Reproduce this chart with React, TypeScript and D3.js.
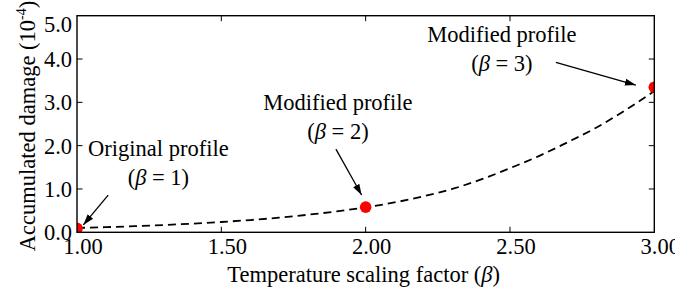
import React from "react";
import * as d3 from "d3";

const W = 675;
const H = 290;
const M = { left: 77, right: 20.7, top: 15.7, bottom: 57.7 };

// Curve (accumulated damage vs temperature scaling factor)
const curveBeta = [1.0, 1.1, 1.2, 1.3, 1.4, 1.5, 1.6, 1.7, 1.8, 1.9, 2.0, 2.1, 2.2, 2.3, 2.4, 2.5, 2.6, 2.7, 2.8, 2.9, 3.0];
const curveDamage = [0.1, 0.119, 0.141, 0.168, 0.2, 0.238, 0.283, 0.337, 0.405, 0.483, 0.577, 0.69, 0.83, 1.0, 1.22, 1.48, 1.76, 2.08, 2.42, 2.82, 3.26];

// Highlighted profiles
const pointBeta = [1, 2, 3];
const pointDamage = [0.09, 0.58, 3.35];

// Ticks
const xTicks = [1.0, 1.5, 2.0, 2.5, 3.0];
const xTickLabels = ["1.00", "1.50", "2.00", "2.50", "3.00"];
const yTicks = [0, 1, 2, 3, 4, 5];
const yTickLabels = ["0.0", "1.0", "2.0", "3.0", "4.0", "5.0"];

// Annotations (data coordinates)
const annBeta = [1.282, 1.904, 2.472];
const annDamage = [1.76, 2.82, 4.4];
const annLine1 = ["Original profile", "Modified profile", "Modified profile"];
const annBetaValue = ["1", "2", "3"];
const arrowFromBeta = [1.108, 1.897, 2.659];
const arrowFromDamage = [0.86, 1.92, 3.92];
const arrowToBeta = [1.022, 1.986, 2.936];
const arrowToDamage = [0.17, 0.86, 3.4];

const FONT = '"Liberation Serif", "Times New Roman", Times, serif';
const FS = 22.5;

export default function App() {
  const x = d3.scaleLinear().domain([1, 3]).range([M.left, W - M.right]);
  const y = d3.scaleLinear().domain([0, 5]).range([H - M.bottom, M.top]);
  const x0 = x.range()[0], x1 = x.range()[1];
  const y0 = y.range()[0], y1 = y.range()[1];

  const line = d3
    .line<number>()
    .x((_, i) => x(curveBeta[i]))
    .y((d) => y(d))
    .curve(d3.curveMonotoneX);

  const tickLen = 5.5;
  const ts: React.CSSProperties = { fontFamily: FONT, fontSize: FS };

  return (
    <svg
      width={W}
      height={H}
      style={{ position: "absolute", left: 0, top: 0, background: "#fff", fontFamily: FONT }}
    >
      <defs>
        <clipPath id="plotclip">
          <rect x={x0} y={y1} width={x1 - x0} height={y0 - y1} />
        </clipPath>
        <marker id="arrowhead" viewBox="0 0 11 10" refX="11" refY="5" markerWidth="11" markerHeight="10" markerUnits="userSpaceOnUse" orient="auto">
          <path d="M0,1.5 L11,5 L0,8.5 Z" fill="#000" />
        </marker>
      </defs>

      <g clipPath="url(#plotclip)">
        <path d={line(curveDamage) || ""} fill="none" stroke="#000" strokeWidth={1.8} strokeDasharray="8,5" />
        {pointBeta.map((b, i) => (
          <circle key={i} cx={x(b)} cy={y(pointDamage[i])} r={5.8} fill="#ff0000" />
        ))}
      </g>

      {/* ticks */}
      {xTicks.map((t, i) =>
        i === 0 || i === xTicks.length - 1 ? null : (
          <g key={"xt" + i}>
            <line x1={x(t)} x2={x(t)} y1={y0} y2={y0 - tickLen} stroke="#000" strokeWidth={1} />
            <line x1={x(t)} x2={x(t)} y1={y1} y2={y1 + tickLen} stroke="#000" strokeWidth={1} />
          </g>
        )
      )}
      {yTicks.map((t, i) =>
        i === 0 || i === yTicks.length - 1 ? null : (
          <g key={"yt" + i}>
            <line x1={x0} x2={x0 + tickLen} y1={y(t)} y2={y(t)} stroke="#000" strokeWidth={1} />
            <line x1={x1} x2={x1 - tickLen} y1={y(t)} y2={y(t)} stroke="#000" strokeWidth={1} />
          </g>
        )
      )}

      <rect x={x0} y={y1} width={x1 - x0} height={y0 - y1} fill="none" stroke="#000" strokeWidth={1.4} />

      {/* tick labels */}
      {xTicks.map((t, i) => (
        <text key={"xl" + i} x={x(t) + 6} y={y0 + 22} style={ts} textAnchor="middle" fill="#000">
          {xTickLabels[i]}
        </text>
      ))}
      {yTicks.map((t, i) => (
        <text
          key={"yl" + i}
          x={x0 - 5}
          y={y(t) + (i === yTicks.length - 1 ? 8 : 0)}
          dy="0.35em"
          style={ts}
          textAnchor="end"
          fill="#000"
        >
          {yTickLabels[i]}
        </text>
      ))}

      {/* axis titles */}
      <text x={(x0 + x1) / 2 - 2} y={282} style={ts} textAnchor="middle" fill="#000">
        Temperature scaling factor (<tspan fontStyle="italic">β</tspan>)
      </text>
      <text
        transform={`translate(35,${(y0 + y1) / 2 + 2}) rotate(-90)`}
        style={ts}
        textAnchor="middle"
        fill="#000"
      >
        Accumulated damage (10
        <tspan style={{ fontSize: 14 }} dy={-9}>-4</tspan>
        <tspan dy={9}>)</tspan>
      </text>

      {/* annotations */}
      {annBeta.map((b, i) => (
        <g key={"an" + i}>
          <text x={x(b)} y={y(annDamage[i])} style={ts} textAnchor="middle" fill="#000">
            {annLine1[i]}
          </text>
          <text x={x(b)} y={y(annDamage[i]) + 29} style={ts} textAnchor="middle" fill="#000">
            (<tspan fontStyle="italic">β</tspan> = {annBetaValue[i]})
          </text>
          <line
            x1={x(arrowFromBeta[i])}
            y1={y(arrowFromDamage[i])}
            x2={x(arrowToBeta[i])}
            y2={y(arrowToDamage[i])}
            stroke="#000"
            strokeWidth={1.3}
            markerEnd="url(#arrowhead)"
          />
        </g>
      ))}
    </svg>
  );
}
